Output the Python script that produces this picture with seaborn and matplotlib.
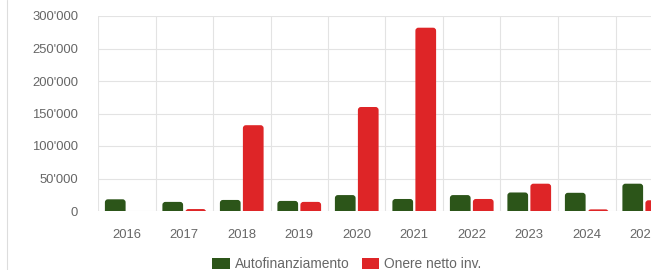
import numpy as np
import matplotlib
matplotlib.use("Agg")
import matplotlib.pyplot as plt
import pandas as pd
import seaborn as sns
from matplotlib.ticker import FuncFormatter, FixedLocator
from matplotlib.patches import FancyBboxPatch, Patch
from matplotlib.lines import Line2D

years = ["2016", "2017", "2018", "2019", "2020", "2021", "2022", "2023", "2024", "2025"]
autofinanziamento = [18000, 14000, 17000, 15500, 24500, 18500, 24500, 28500, 28000, 42000]
onere_netto = [0, 3000, 132000, 14000, 160000, 282000, 18500, 42000, 2500, 16500]
series = ["Autofinanziamento", "Onere netto inv."]
colors = ["#2c5519", "#de2527"]

df = pd.DataFrame({
    "anno": years * 2,
    "valore": autofinanziamento + onere_netto,
    "serie": [series[0]] * len(years) + [series[1]] * len(years),
})

sns.set_style("white")
plt.rcParams["font.family"] = ["Liberation Sans", "DejaVu Sans"]

W, H = 651, 270
fs = 9.4
fig = plt.figure(figsize=(W / 100, H / 100), dpi=100)
ax = fig.add_axes([98 / W, 59 / H, (W - 98) / W, 195 / H])

sns.barplot(data=df, x="anno", y="valore", hue="serie", palette=colors,
            width=0.8, gap=0.1, ax=ax, legend=False, saturation=1)

ax.set_ylim(0, 300000)
ax.set_xlim(-0.5, (W - 98) / 57.5 - 0.5)

# rounded tops on the bars
px_x = 57.5
px_y = 195 / 300000
r = 3.0
for p in list(ax.patches):
    x0, w, h = p.get_x(), p.get_width(), p.get_height()
    if h <= 0:
        p.remove()
        continue
    ry = r / px_y
    fb = FancyBboxPatch((x0, -ry), w, h + ry,
                        boxstyle=f"round,pad=0,rounding_size={r / px_x}",
                        mutation_aspect=(r / px_y) / (r / px_x),
                        facecolor=p.get_facecolor(), edgecolor="none")
    p.remove()
    ax.add_patch(fb)

grid_c = "#e3e3e3"
ax.set_yticks(np.arange(0, 300001, 50000))
ax.yaxis.set_major_formatter(FuncFormatter(lambda v, _: f"{int(v):,}".replace(",", "'")))
ax.tick_params(axis="y", length=10.8, width=0.8, color=grid_c, pad=3.5,
               labelsize=fs, labelcolor="#666666")
ax.grid(axis="y", color=grid_c, linewidth=0.8)

ax.xaxis.set_minor_locator(FixedLocator(np.arange(-0.5, 10.5, 1)))
ax.tick_params(axis="x", which="major", length=0, pad=13, labelsize=fs, labelcolor="#666666")
ax.tick_params(axis="x", which="minor", length=9.5, width=0.8, color=grid_c)
ax.grid(axis="x", which="minor", color=grid_c, linewidth=0.8)
ax.set_axisbelow(True)
ax.set_xlabel("")
ax.set_ylabel("")
for s in ax.spines.values():
    s.set_visible(False)

fig.add_artist(Line2D([7 / W, 7 / W], [0, 1], color="#dddddd", linewidth=0.8))

handles = [Patch(facecolor=c, edgecolor="none") for c in colors]
fig.legend(handles, series, loc="center", bbox_to_anchor=(347 / W, 1 - 264 / H),
           ncol=2, frameon=False, fontsize=9.9, handlelength=1.25, handleheight=0.9,
           handletextpad=0.4, columnspacing=0.85, labelcolor="#666666")

fig.savefig("out.png", dpi=100)
